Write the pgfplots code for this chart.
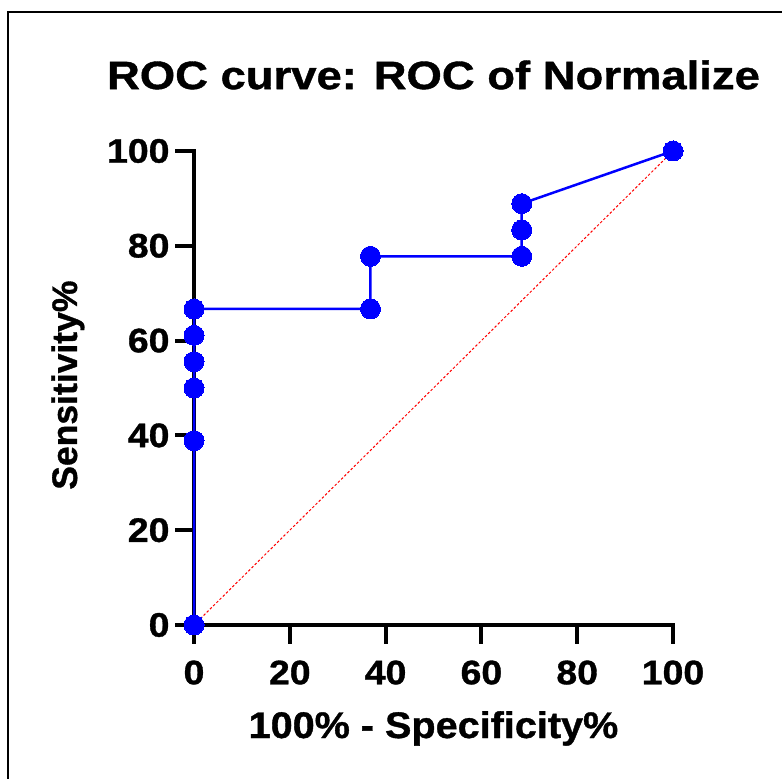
\documentclass[border=0pt]{standalone}
\usepackage{pgfplots}
\pgfplotsset{compat=1.18}
\usepackage{fontspec}
\setmainfont{Liberation Sans}
\newfontfamily\titlefont[FakeStretch=1.15,FakeBold=1]{Liberation Sans}
\newfontfamily\tickfont[FakeStretch=1.1,FakeBold=1]{Liberation Sans}
\newfontfamily\labelfont[FakeStretch=1.07,FakeBold=1]{Liberation Sans}
\newfontfamily\ylabfont[FakeBold=1]{Liberation Sans}

\pgfplotstableread{
x y
0 0
0 38.89
0 50
0 55.56
0 61.11
0 66.67
36.84 66.67
36.84 77.78
68.42 77.78
68.42 83.33
68.42 88.89
100 100
}\roc

\begin{document}
\begin{tikzpicture}[x=1pt,y=1pt]
\useasboundingbox (0,0) rectangle (782,779);
% frame (left and top edges only, the rest is cut off)
\draw[line width=2pt] (7.5,0) -- (7.5,766.5) -- (782,766.5);
\begin{axis}[
  at={(194pt,154pt)}, anchor=south west,
  scale only axis,
  width=479pt, height=474pt,
  xmin=0, xmax=100, ymin=0, ymax=100,
  clip=false,
  axis x line=bottom, axis y line=left,
  axis line style={-, line width=4pt, line cap=rect},
  tick align=outside,
  major tick length=19pt,
  every tick/.style={black, line width=4pt},
  xtick={0,20,40,60,80,100},
  ytick={0,20,40,60,80,100},
  tick label style={font=\tickfont\bfseries\fontsize{34}{34}\selectfont},
  /pgf/number format/assume math mode=true,
  xticklabel style={anchor=north, yshift=-13pt},
  yticklabel style={anchor=east, xshift=-2pt},
  title={ROC curve: ROC of Normalize},
  title style={font=\titlefont\bfseries\fontsize{39.5}{39.5}\selectfont,
    at={(axis description cs:0.5,1.118)}, anchor=base},
  xlabel={100\% - Specificity\%},
  xlabel style={font=\labelfont\bfseries\fontsize{37}{37}\selectfont,
    at={(axis description cs:0.5,-0.2384)}, anchor=base},
  ylabel={Sensitivity\%},
  ylabel style={font=\ylabfont\bfseries\fontsize{35.5}{35.5}\selectfont,
    at={(axis description cs:-0.2443,0.506)}, anchor=base, rotate=0},
]
\addplot[red, line width=1pt, dash pattern=on 2.5pt off 2pt] coordinates {(0,0) (100,100)};
\addplot[blue, line width=2.5pt, mark=*, mark size=10pt,
  mark options={fill=blue, draw=blue, line width=0pt, solid}] table {\roc};
\end{axis}
\end{tikzpicture}
\end{document}
